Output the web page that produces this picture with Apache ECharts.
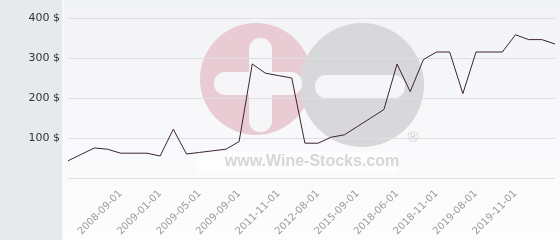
<!DOCTYPE html>
<html>
<head>
<meta charset="utf-8">
<script src="https://cdn.jsdelivr.net/npm/echarts@6/dist/echarts.min.js"></script>
<style>
  html, body { margin: 0; padding: 0; background: #ffffff; }
  #chart { width: 560px; height: 240px; }
</style>
</head>
<body>
<div id="chart"></div>
<script>
// Category labels (only the shown dates are known; others left blank)
const categories = [
  '', '', '', '', '2008-09-01', '', '', '2009-01-01', '', '',
  '2009-05-01', '', '', '2009-09-01', '', '', '2011-11-01', '', '', '2012-08-01',
  '', '', '2015-09-01', '', '', '2018-06-01', '', '', '2018-11-01', '',
  '', '2019-08-01', '', '', '2019-11-01', '', '', ''
];
// Price values ($)
const prices = [
  43, 59, 75, 72, 62, 62, 62, 55, 122, 60,
  64, 68, 72, 91, 285, 262, 256, 250, 87, 87,
  102, 108, 129, 150, 171, 285, 216, 296, 315, 315,
  211, 315, 315, 315, 358, 346, 346, 335
];
const yTicks = [0, 100, 200, 300, 400];

const chart = echarts.init(document.getElementById('chart'), null, { renderer: 'canvas' });

const option = {
  animation: false,
  backgroundColor: '#ffffff',
  graphic: [
    { type: 'rect', z: -30, silent: true, shape: { x: 0, y: 0, width: 63, height: 240 }, style: { fill: '#e6eaed' } },
    { type: 'rect', z: -30, silent: true, shape: { x: 63, y: 0, width: 497, height: 240 },
      style: { fill: new echarts.graphic.LinearGradient(0, 0, 0, 1, [
        { offset: 0, color: '#f2f3f6' }, { offset: 1, color: '#fdfdfe' }]) } },
    { type: 'rect', z: -29, silent: true, shape: { x: 62.5, y: 0, width: 1, height: 240 }, style: { fill: '#ffffff' } },
    // watermark
    { type: 'circle', z: -20, silent: true, shape: { cx: 256, cy: 79, r: 56 }, style: { fill: '#e8cbd3' } },
    { type: 'circle', z: -19, silent: true, shape: { cx: 362, cy: 85, r: 62 }, style: { fill: '#d8d8da' } },
    { type: 'rect', z: -18, silent: true, shape: { x: 249, y: 38, width: 23, height: 94, r: 11 }, style: { fill: '#f6f6f9' } },
    { type: 'rect', z: -18, silent: true, shape: { x: 214, y: 72, width: 88, height: 23, r: 11 }, style: { fill: '#f6f6f9' } },
    { type: 'rect', z: -18, silent: true, shape: { x: 315, y: 75, width: 90, height: 23, r: 11 }, style: { fill: '#f6f6f9' } },
    { type: 'rect', z: -17, silent: true, shape: { x: 197, y: 152, width: 200, height: 21 }, style: { fill: 'rgba(255,255,255,0.5)' } },
    { type: 'text', z: -16, silent: true, style: { x: 312, y: 162, text: 'www.Wine-Stocks.com', fill: '#d6d6d8',
      font: 'bold 16px "Liberation Sans", Arial, sans-serif', align: 'center', verticalAlign: 'middle' } },
    { type: 'text', z: -16, silent: true, style: { x: 413, y: 138, text: '®', fill: '#d0d0d2',
      font: '15px "Liberation Sans", Arial, sans-serif', align: 'center', verticalAlign: 'middle' } }
  ],
  grid: { left: 68, right: 5, top: 18, bottom: 62, containLabel: false },
  xAxis: {
    type: 'category',
    data: categories,
    boundaryGap: false,
    axisLine: { show: false },
    axisTick: { show: false },
    splitLine: { show: false },
    axisLabel: {
      interval: 0,
      rotate: 45,
      margin: 14,
      color: '#9a9a9a',
      fontSize: 10,
      fontFamily: 'DejaVu Sans'
    }
  },
  yAxis: {
    type: 'value',
    min: yTicks[0],
    max: yTicks[yTicks.length - 1],
    interval: 100,
    axisLine: { show: false },
    axisTick: { show: false },
    splitLine: { lineStyle: { color: '#dfdfe2', width: 1 } },
    axisLabel: {
      margin: 8,
      color: '#333333',
      fontSize: 11,
      fontFamily: 'DejaVu Sans',
      formatter: function (v) { return v === 0 ? '' : v + ' $'; }
    }
  },
  series: [{
    type: 'line',
    data: prices,
    showSymbol: false,
    symbol: 'none',
    lineStyle: { color: '#3b2430', width: 1 },
    z: 5
  }]
};
chart.setOption(option);
</script>
</body>
</html>
